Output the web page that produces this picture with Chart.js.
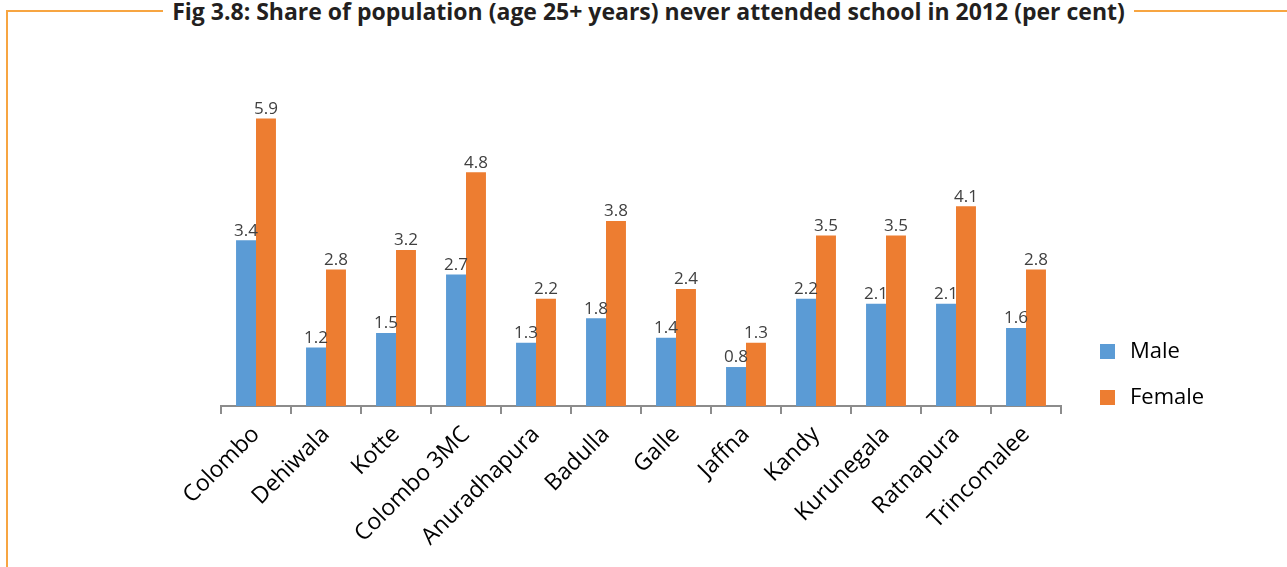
<!DOCTYPE html>
<html>
<head>
<meta charset="utf-8">
<script src="https://cdn.jsdelivr.net/npm/chart.js@4"></script>
<style>
  html, body { margin: 0; padding: 0; background: #fff; }
  #wrap { position: relative; width: 1287px; height: 567px; overflow: hidden; }
  #frame { position: absolute; left: 6px; top: 10px; right: -2px; bottom: -2px;
           border-left: 2px solid #F7A541; border-top: 2px solid #F7A541; }
  #title { position: absolute; top: -2px; left: 0; width: 1297px; text-align: center;
           font-family: "Open Sans", sans-serif; font-weight: bold;
           font-size: 23px; line-height: 26px; color: #231f20; }
  #title span { background: #fff; padding: 0 9px; }
  #chart { position: absolute; left: 0; top: 0; }
  #legend { position: absolute; left: 1100px; top: 334px; font-family: "Open Sans", sans-serif;
            font-size: 22px; color: #000; }
  #legend div { height: 46px; line-height: 30px; }
  #legend i { display: inline-block; width: 15px; height: 15px; margin-right: 15px; vertical-align: -1px; }
</style>
</head>
<body>
<div id="wrap">
  <div id="frame"></div>
  <div id="title"><span>Fig 3.8: Share of population (age 25+ years) never attended school in 2012 (per cent)</span></div>
  <canvas id="chart" width="1287" height="567"></canvas>
  <div id="legend"></div>
</div>
<script>
// values
const districts = ['Colombo', 'Dehiwala', 'Kotte', 'Colombo 3MC', 'Anuradhapura', 'Badulla',
  'Galle', 'Jaffna', 'Kandy', 'Kurunegala', 'Ratnapura', 'Trincomalee'];
const male = [3.4, 1.2, 1.5, 2.7, 1.3, 1.8, 1.4, 0.8, 2.2, 2.1, 2.1, 1.6];
const female = [5.9, 2.8, 3.2, 4.8, 2.2, 3.8, 2.4, 1.3, 3.5, 3.5, 4.1, 2.8];

const BLUE = '#5B9BD5';
const ORANGE = '#ED7D31';
const FONT = '"Open Sans", "DejaVu Sans", sans-serif';

// value labels above each bar
const barLabels = {
  id: 'barLabels',
  afterDatasetsDraw(chart) {
    const ctx = chart.ctx;
    ctx.save();
    ctx.font = '17px ' + FONT;
    ctx.fillStyle = '#404040';
    ctx.textAlign = 'center';
    ctx.textBaseline = 'bottom';
    chart.data.datasets.forEach((ds, i) => {
      chart.getDatasetMeta(i).data.forEach((bar, j) => {
        ctx.fillText(ds.data[j].toFixed(1), bar.x, bar.y - 1);
      });
    });
    ctx.restore();
  }
};

const chart = new Chart(document.getElementById('chart'), {
  type: 'bar',
  data: {
    labels: districts,
    datasets: [
      { label: 'Male', data: male, backgroundColor: BLUE },
      { label: 'Female', data: female, backgroundColor: ORANGE },
    ],
  },
  options: {
    responsive: false,
    animation: false,
    layout: { padding: { top: 65, left: 221, right: 226, bottom: 9 } },
    datasets: { bar: { categoryPercentage: 0.57, barPercentage: 1.0 } },
    plugins: {
      legend: { display: false },
      tooltip: { enabled: false },
    },
    scales: {
      y: { display: false, min: 0, max: 7 },
      x: {
        border: { color: '#8c8c8c', width: 2 },
        grid: { display: true, drawOnChartArea: false, color: '#8c8c8c', lineWidth: 2, tickLength: 8 },
        ticks: { color: '#000', font: { family: FONT, size: 23 }, minRotation: 45, maxRotation: 45, padding: 7 },
      },
    },
  },
  plugins: [barLabels],
});

// simple legend beside the plot
document.getElementById('legend').innerHTML = chart.data.datasets
  .map(ds => `<div><i style="background:${ds.backgroundColor}"></i>${ds.label}</div>`).join('');
</script>
</body>
</html>
